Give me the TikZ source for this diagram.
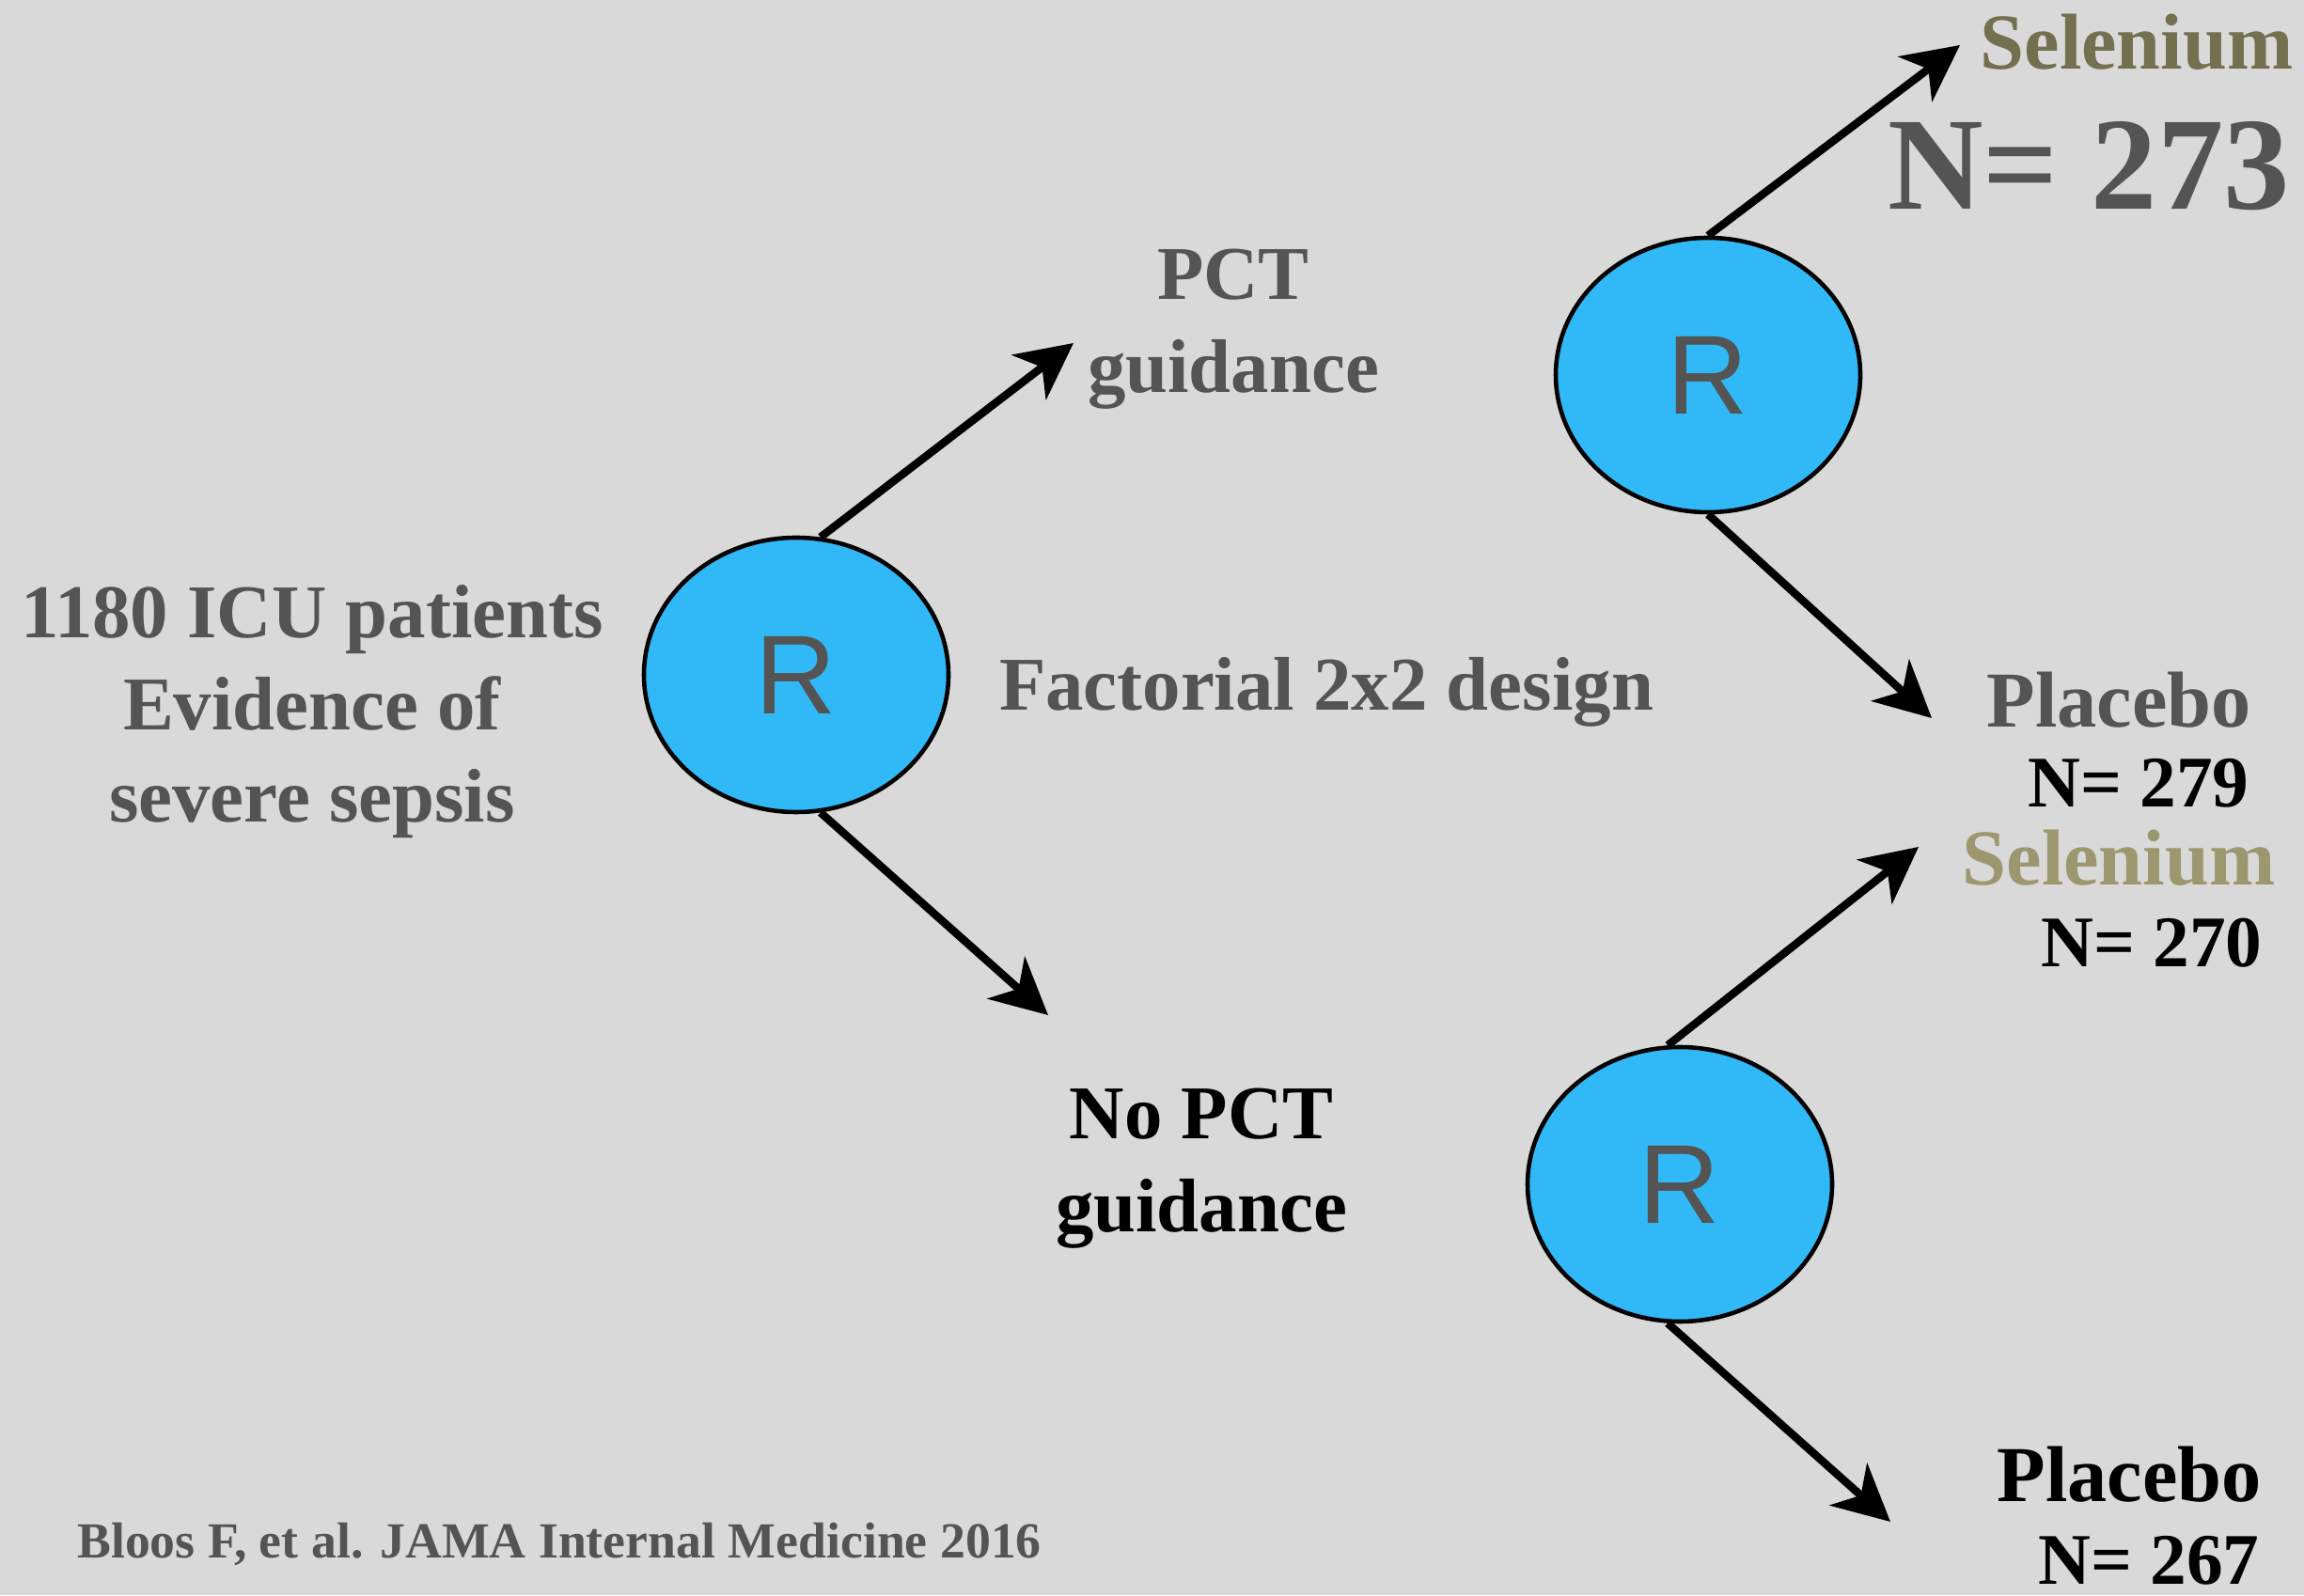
\documentclass[tikz,border=0pt]{standalone}
\usepackage{fontspec}
\setmainfont{Liberation Serif}
\newfontfamily\rfont{Liberation Sans}
\usetikzlibrary{shapes.geometric,arrows.meta}
\definecolor{slideBg}{RGB}{217,217,217}
\definecolor{txtGray}{RGB}{84,84,84}
\definecolor{randBlue}{RGB}{49,185,247}
\definecolor{seleniumDark}{RGB}{115,112,80}
\definecolor{seleniumLight}{RGB}{156,151,111}
\tikzstyle{randNode}=[draw,ellipse,fill=randBlue,line width=1.3pt,minimum width=3.24cm,minimum height=2.92cm,inner sep=0pt,text=txtGray,font=\rfont\fontsize{34}{40}\selectfont]
\tikzstyle{armLabel}=[align=center,inner sep=0pt,text=txtGray,font=\bfseries\fontsize{23}{28}\selectfont]
\tikzstyle{countLabel}=[inner sep=0pt,font=\bfseries\fontsize{22}{26}\selectfont]
\tikzstyle{armTransition}=[-{Stealth[length=17pt,width=17pt,inset=5pt]}, line width=2.4pt]

\begin{document}
\begin{tikzpicture}
	\fill[slideBg] (0,0) rectangle (24.51,16.97);
	\useasboundingbox (0,0) rectangle (24.51,16.97);

	\node[randNode] (r1) at (8.47, 9.79) {R};
	\node[randNode] (r2) at (18.17, 12.98) {R};
	\node[randNode] (r3) at (17.87, 4.37) {R};

	\node[armLabel] (cohort) at (3.32, 9.40) {1180 ICU patients\\Evidence of\\severe sepsis};
	\node[armLabel] (pct) at (13.12, 13.47) {PCT\\guidance};
	\node[armLabel, text=black] (noPct) at (12.78, 4.54) {No PCT\\guidance};
	\node[armLabel] (design) at (14.11, 9.61) {Factorial 2x2 design};

	\node[armLabel, text=seleniumDark, font=\bfseries\fontsize{24}{28}\selectfont] (selA) at (22.73, 16.52) {Selenium};
	\node[countLabel, text=txtGray, font=\bfseries\fontsize{40}{46}\selectfont] (selACount) at (22.22, 15.20) {N= 273};
	\node[armLabel, font=\bfseries\fontsize{24}{28}\selectfont] (plaA) at (22.54, 9.52) {Placebo};
	\node[countLabel] (plaACount) at (22.75, 8.64) {N= 279};
	\node[armLabel, text=seleniumLight, font=\bfseries\fontsize{24}{28}\selectfont] (selB) at (22.54, 7.84) {Selenium};
	\node[countLabel] (selBCount) at (22.89, 6.94) {N= 270};
	\node[armLabel, text=black, font=\bfseries\fontsize{24}{28}\selectfont] (plaB) at (22.65, 1.28) {Placebo};
	\node[countLabel] (plaBCount) at (22.86, 0.37) {N= 267};

	\node[armLabel, font=\bfseries\fontsize{15.3}{18}\selectfont] (cite) at (5.95, 0.54) {Bloos F, et al. JAMA Internal Medicine 2016};

	\coordinate (pctTip) at (11.42, 13.32);
	\coordinate (noPctTip) at (11.15, 6.17);
	\coordinate (selTipA) at (20.85, 16.49);
	\coordinate (plaTipA) at (20.55, 9.33);
	\coordinate (selTipB) at (20.41, 7.96);
	\coordinate (plaTipB) at (20.11, 0.78);

	\draw[armTransition] (r1.80) -- (pctTip);
	\draw[armTransition] (r1.280) -- (noPctTip);
	\draw[armTransition] (r2.north) -- (selTipA);
	\draw[armTransition] (r2.south) -- (plaTipA);
	\draw[armTransition] (r3.95) -- (selTipB);
	\draw[armTransition] (r3.265) -- (plaTipB);
\end{tikzpicture}
\end{document}
